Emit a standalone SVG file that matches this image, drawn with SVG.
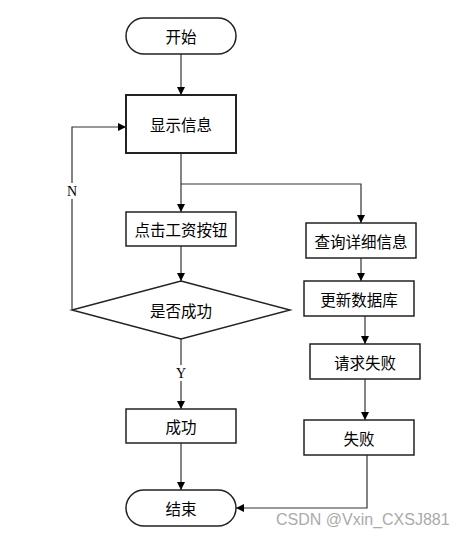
<svg xmlns="http://www.w3.org/2000/svg" width="468" height="537" viewBox="0 0 468 537">
<style>
.box{fill:#fff;stroke:#222;stroke-width:1.5}
.thick{stroke-width:2}
.t{font-family:"Noto Sans CJK SC","Noto Sans CJK JP",sans-serif;font-size:15.5px;fill:#000;text-anchor:middle;dominant-baseline:central}
.lbl{font-family:"Liberation Serif",serif;font-size:14px;fill:#000;text-anchor:middle;dominant-baseline:central}
.c{fill:none;stroke:#333;stroke-width:1.2}
.wm{font-family:"Liberation Sans",sans-serif;font-size:16px;fill:#aaa}
</style>
<defs>
<marker id="a" viewBox="0 0 10 10" refX="10" refY="5" markerWidth="8" markerHeight="8" markerUnits="userSpaceOnUse" orient="auto">
<path d="M0,0L10,5L0,10z" fill="#000"/>
</marker>
</defs>
<rect width="468" height="537" fill="#fff"/>
<g id="connectors">
<path class="c" d="M181,54V95" marker-end="url(#a)"/>
<path class="c" d="M181,153V212" marker-end="url(#a)"/>
<path class="c" d="M181,184H361V223" marker-end="url(#a)"/>
<path class="c" d="M181,246V281" marker-end="url(#a)"/>
<path class="c" d="M72,309V127H126" marker-end="url(#a)"/>
<path class="c" d="M181,339V409" marker-end="url(#a)"/>
<path class="c" d="M181,443V490" marker-end="url(#a)"/>
<path class="c" d="M361,258V281" marker-end="url(#a)"/>
<path class="c" d="M365,316V344" marker-end="url(#a)"/>
<path class="c" d="M365,379V420" marker-end="url(#a)"/>
<path class="c" d="M367,455V508H236" marker-end="url(#a)"/>
<rect x="64" y="183" width="16" height="16" fill="#fff"/>
<text class="lbl" x="72" y="191">N</text>
<rect x="173" y="365" width="16" height="16" fill="#fff"/>
<text class="lbl" x="181" y="373">Y</text>
</g>
<g id="start"><rect class="box" x="126" y="18" width="110" height="36" rx="18"/><text class="t" x="181" y="36">开始</text></g>
<g id="show"><rect class="box thick" x="126" y="95" width="110" height="58"/><text class="t" x="181" y="124">显示信息</text></g>
<g id="click"><rect class="box" x="126" y="212" width="110" height="34"/><text class="t" x="181" y="229">点击工资按钮</text></g>
<g id="decision"><polygon class="box" points="181,281 290,310 181,339 72,310"/><text class="t" x="181" y="310">是否成功</text></g>
<g id="success"><rect class="box" x="126" y="409" width="110" height="34"/><text class="t" x="181" y="426">成功</text></g>
<g id="end"><rect class="box" x="126" y="490" width="110" height="36" rx="18"/><text class="t" x="181" y="508">结束</text></g>
<g id="query"><rect class="box" x="306" y="223" width="110" height="35"/><text class="t" x="361" y="240.5">查询详细信息</text></g>
<g id="update"><rect class="box" x="304" y="281" width="110" height="35"/><text class="t" x="359" y="298.5">更新数据库</text></g>
<g id="reqfail"><rect class="box" x="310" y="344" width="110" height="35"/><text class="t" x="365" y="361.5">请求失败</text></g>
<g id="fail"><rect class="box" x="304" y="420" width="110" height="35"/><text class="t" x="359" y="437.5">失败</text></g>
<text class="wm" x="276" y="525">CSDN @Vxin_CXSJ881</text>
</svg>
